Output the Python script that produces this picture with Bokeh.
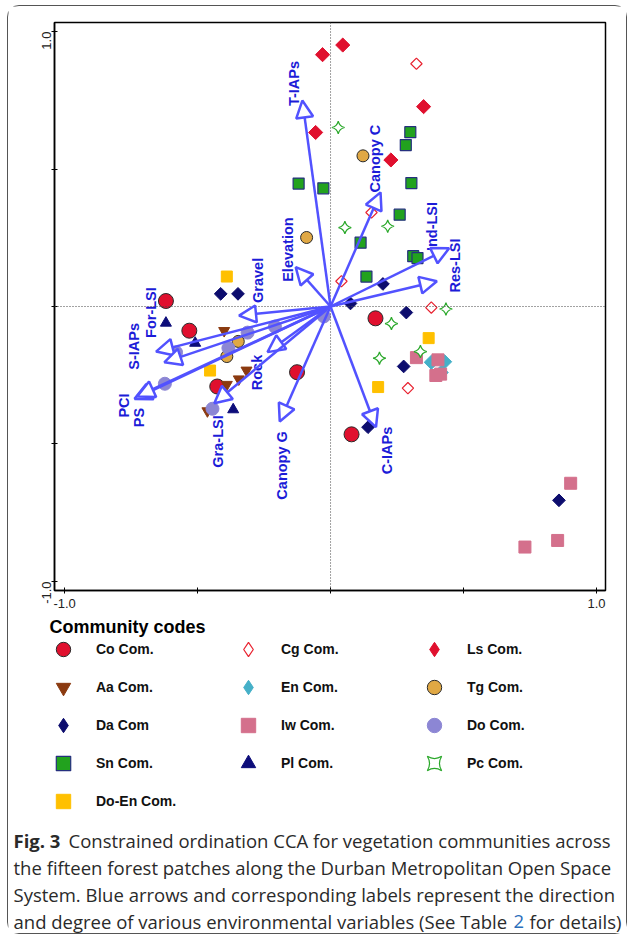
import numpy as np
from bokeh.plotting import figure
from bokeh.layouts import column
from bokeh.models import (Range1d, Span, Arrow, NormalHead, ColumnDataSource, Legend,
                          LegendItem, Label, FixedTicker, NumeralTickFormatter)
from bokeh.core.properties import value
from bokeh.embed import file_html
from bokeh.resources import INLINE

# ---------------- environmental vectors (CCA biplot scores) ----------------
env_names = ["T-IAPs", "Canopy C", "Ind-LSI", "Res-LSI", "Elevation", "Gravel", "For-LSI",
             "S-IAPs", "PCI", "PS", "Rock", "Gra-LSI", "Canopy G", "C-IAPs"]
env_x = [-0.106, 0.188, 0.446, 0.400, -0.131, -0.344, -0.656, -0.625, -0.737, -0.727, -0.237, -0.437, -0.191, 0.171]
env_y = [0.749, 0.415, 0.212, 0.092, 0.143, -0.033, -0.164, -0.203, -0.336, -0.327, -0.166, -0.352, -0.418, -0.439]
env_lab_x = [-0.139, 0.169, 0.381, 0.469, -0.161, -0.274, -0.675, -0.739, -0.776, -0.720, -0.277, -0.424, -0.184, 0.214]
env_lab_y = [0.811, 0.538, 0.291, 0.149, 0.207, 0.095, -0.022, -0.145, -0.360, -0.404, -0.240, -0.491, -0.578, -0.524]

# ---------------- community (sample) scores ----------------
co_x = [-0.619, -0.531, -0.426, -0.126, 0.169, 0.079]
co_y = [0.020, -0.088, -0.291, -0.239, -0.043, -0.465]
aa_x = [-0.400, -0.316, -0.345, -0.390, -0.463]
aa_y = [-0.088, -0.232, -0.264, -0.284, -0.380]
da_x = [-0.413, -0.348, 0.197, 0.075, 0.285, 0.275, 0.141, 0.859]
da_y = [0.046, 0.046, 0.082, 0.011, -0.022, -0.218, -0.439, -0.705]
sn_x = [-0.120, -0.027, 0.300, 0.283, 0.304, 0.260, 0.113, 0.311, 0.327, 0.135]
sn_y = [0.447, 0.430, 0.634, 0.587, 0.449, 0.334, 0.232, 0.183, 0.176, 0.109]
doen_x = [-0.390, -0.453, 0.369, 0.179]
doen_y = [0.109, -0.233, -0.115, -0.293]
cg_x = [0.323, 0.154, 0.041, 0.379, 0.291]
cg_y = [0.883, 0.342, 0.092, -0.004, -0.297]
en_x = [0.379, 0.429, 0.416]
en_y = [-0.203, -0.201, -0.240]
iw_x = [0.323, 0.404, 0.396, 0.414, 0.903, 0.731, 0.854]
iw_y = [-0.186, -0.194, -0.251, -0.246, -0.643, -0.875, -0.851]
pl_x = [-0.619, -0.509, -0.366]
pl_y = [-0.060, -0.133, -0.375]
ls_x = [-0.030, 0.046, 0.350, -0.056, 0.227]
ls_y = [0.916, 0.951, 0.727, 0.633, 0.533]
tg_x = [-0.090, 0.122, -0.347, -0.390]
tg_y = [0.251, 0.548, -0.127, -0.182]
do_x = [-0.025, -0.209, -0.312, -0.384, -0.581, -0.623, -0.444]
do_y = [-0.036, -0.073, -0.095, -0.151, -0.167, -0.281, -0.372]
pc_x = [0.029, 0.054, 0.215, 0.434, 0.229, 0.338, 0.184]
pc_y = [0.651, 0.287, 0.292, -0.009, -0.062, -0.164, -0.188]

axis_ticks = [-1.0, 1.0]
axis_minor = [-0.5, 0.0, 0.5]
legend_title = "Community codes"
legend_cols = [
    ["Co Com.", "Aa Com.", "Da Com", "Sn Com.", "Do-En Com."],
    ["Cg Com.", "En Com.", "Iw Com.", "Pl Com."],
    ["Ls Com.", "Tg Com.", "Do Com.", "Pc Com."],
]
caption_fig = "Fig. 3"
caption_l1 = "Constrained ordination CCA for vegetation communities across"
caption_mid = [
    "the fifteen forest patches along the Durban Metropolitan Open Space",
    "System. Blue arrows and corresponding labels represent the direction",
]
caption_l4a = "and degree of various environmental variables (See Table"
caption_ref = "2"
caption_l4b = "for details)"

FONT = "Liberation Sans"
CAP_FONT = "Open Sans"
ARROW_BLUE = "#5252ff"
LABEL_BLUE = "#1c1cd8"

W = 618
H1 = 610
H2 = 317

# ======================= ordination plot =======================
p = figure(width=W, height=H1, output_backend="svg", toolbar_location=None,
           x_range=Range1d(-1.038, 1.034), y_range=Range1d(-1.033, 1.033),
           min_border_left=46, min_border_right=21, min_border_top=16, min_border_bottom=26)
p.grid.visible = False
p.outline_line_color = "black"
p.outline_line_width = 1.5

for ax in (p.xaxis[0], p.yaxis[0]):
    ax.ticker = FixedTicker(ticks=axis_ticks, minor_ticks=axis_minor)
    ax.formatter = NumeralTickFormatter(format="0.0")
    ax.axis_line_color = "black"
    ax.axis_line_width = 1.5
    ax.major_tick_in = 3
    ax.major_tick_out = 3
    ax.minor_tick_in = 3
    ax.minor_tick_out = 3
    ax.major_tick_line_color = "black"
    ax.minor_tick_line_color = "black"
    ax.major_label_text_font = FONT
    ax.major_label_text_font_size = "13px"
    ax.major_label_text_color = "#222222"
    ax.major_label_standoff = 5
p.yaxis.major_label_orientation = np.pi / 2

p.add_layout(Span(location=0, dimension="height", line_color="#444444", line_width=1, line_dash="1 2"))
p.add_layout(Span(location=0, dimension="width", line_color="#444444", line_width=1, line_dash="1 2"))

env_src = ColumnDataSource(dict(x=env_x, y=env_y, x0=[0.0] * len(env_x), y0=[0.0] * len(env_y)))
p.add_layout(Arrow(x_start="x0", y_start="y0", x_end="x", y_end="y", source=env_src,
                   line_color=ARROW_BLUE, line_width=2.5,
                   end=NormalHead(size=17, fill_color="white", line_color=ARROW_BLUE, line_width=2.5)))

D = np.pi / 4
# name, xs, ys, plot marker, size, angle, fill, line, line width, legend marker
groups = [
    ("Co Com.", co_x, co_y, "circle", 15, 0, "#e0102e", "#2a2a2a", 1.0, "circle"),
    ("Aa Com.", aa_x, aa_y, "inverted_triangle", 11, 0, "#8b3a10", "#8b3a10", 1.0, "inverted_triangle"),
    ("Da Com", da_x, da_y, "square", 9, D, "#0d0d6e", "#0d0d6e", 1.0, "diamond"),
    ("Sn Com.", sn_x, sn_y, "square", 11, 0, "#22a21e", "#25307e", 1.2, "square"),
    ("Do-En Com.", doen_x, doen_y, "square", 11, 0, "#ffc000", "#ffc000", 1.0, "square"),
    ("Cg Com.", cg_x, cg_y, "square", 8, D, "white", "#e8202e", 1.2, "diamond"),
    ("En Com.", en_x, en_y, "square", 10, D, "#45b0c8", "#45b0c8", 1.0, "diamond"),
    ("Iw Com.", iw_x, iw_y, "square", 12, 0, "#d4708c", "#d4708c", 1.0, "square"),
    ("Pl Com.", pl_x, pl_y, "triangle", 11, 0, "#0d0d7a", "#0d0d7a", 1.0, "triangle"),
    ("Ls Com.", ls_x, ls_y, "square", 10, D, "#e0102e", "#e0102e", 1.0, "diamond"),
    ("Tg Com.", tg_x, tg_y, "circle", 12, 0, "#e0a844", "#2a2a2a", 1.0, "circle"),
    ("Do Com.", do_x, do_y, "circle", 13, 0, "#8c86d4", "#8c86d4", 1.0, "circle"),
    ("Pc Com.", pc_x, pc_y, "square_pin", 9, D, "white", "#2aa82a", 1.2, "square_pin"),
]
for name, xs, ys, marker, size, ang, fill, line, lw, lmk in groups:
    p.scatter(xs, ys, marker=marker, size=size, angle=ang, fill_color=fill,
              line_color=line, line_width=lw)

p.text(x=env_lab_x, y=env_lab_y, text=env_names, angle=np.pi / 2, text_align="center",
       text_baseline="middle", text_font=value(FONT), text_font_size="14.5px",
       text_font_style="bold", text_color=LABEL_BLUE)

# ======================= legend + caption panel =======================
q = figure(width=W, height=H2, output_backend="svg", toolbar_location=None,
           x_range=Range1d(0, W), y_range=Range1d(H2, 0),
           x_axis_location=None, y_axis_location=None, min_border=0)
q.grid.visible = False
q.outline_line_color = None
for fig in (p, q):
    if hasattr(fig, "frame_align"):
        fig.frame_align = False

# legend proxies: one undrawn (NaN) point per community so the legend can show its marker
proxy = {}
for name, xs, ys, marker, size, ang, fill, line, lw, lmk in groups:
    proxy[name] = q.scatter(x=np.array([np.nan]), y=np.array([np.nan]), marker=lmk,
                            size=size, fill_color=fill, line_color=line, line_width=lw)

ROW_TOP = 15
col_left = [37, 222, 408]
for names, left in zip(legend_cols, col_left):
    n = len(names)
    hgt = n * 36 + (n - 1) * 2
    lg = Legend(items=[LegendItem(label=nm, renderers=[proxy[nm]]) for nm in names],
                location=(left, H2 - ROW_TOP - hgt), orientation="vertical",
                label_text_font=FONT, label_text_font_size="14px", label_text_font_style="bold",
                label_text_color="#111111",
                glyph_width=36, glyph_height=36, label_width=20, label_height=36,
                label_standoff=15, spacing=2, padding=0, margin=0,
                border_line_color=None, background_fill_alpha=0)
    q.add_layout(lg)

q.add_layout(Label(x=41, y=10, text=legend_title, text_font=FONT, text_font_size="18px",
                   text_font_style="bold", text_color="black", text_baseline="middle"))

CAP_X = 5
CAP_Y = 224
CAP_DY = 27
CAP_SIZE = "18.5px"
cap_color = "#2a2a2a"
q.add_layout(Label(x=CAP_X, y=CAP_Y, text=caption_fig, text_font=CAP_FONT,
                   text_font_size=CAP_SIZE, text_font_style="bold", text_color=cap_color,
                   text_baseline="middle"))
q.add_layout(Label(x=CAP_X + 55, y=CAP_Y, text=caption_l1, text_font=CAP_FONT,
                   text_font_size=CAP_SIZE, text_color=cap_color, text_baseline="middle"))
for i, line in enumerate(caption_mid):
    q.add_layout(Label(x=CAP_X, y=CAP_Y + CAP_DY * (i + 1), text=line, text_font=CAP_FONT,
                       text_font_size=CAP_SIZE, text_color=cap_color, text_baseline="middle"))
y4 = CAP_Y + CAP_DY * 3
q.add_layout(Label(x=CAP_X, y=y4, text=caption_l4a, text_font=CAP_FONT,
                   text_font_size=CAP_SIZE, text_color=cap_color, text_baseline="middle"))
q.add_layout(Label(x=CAP_X + 500, y=y4, text=caption_ref, text_font=CAP_FONT,
                   text_font_size=CAP_SIZE, text_color="#2a6ebb", text_baseline="middle"))
q.add_layout(Label(x=CAP_X + 516, y=y4, text=caption_l4b, text_font=CAP_FONT,
                   text_font_size=CAP_SIZE, text_color=cap_color, text_baseline="middle"))

layout = column(p, q, spacing=0,
                styles={"border": "1px solid #555", "border-radius": "12px",
                        "margin-left": "7px", "margin-top": "5px"})

open("out.html", "w").write(file_html(layout, INLINE))
